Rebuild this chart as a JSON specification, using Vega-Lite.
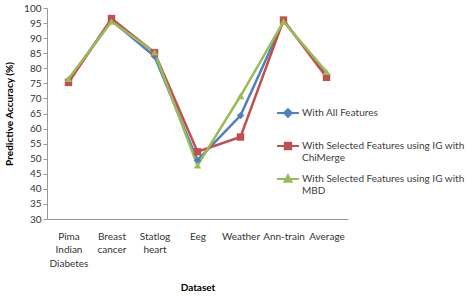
{
  "$schema": "https://vega.github.io/schema/vega-lite/v6.json",
  "width": 301,
  "height": 211,
  "autosize": {"type": "none"},
  "padding": {"left": 47, "top": 8, "right": 124, "bottom": 80},
  "background": "white",
  "config": {
    "view": {"stroke": null},
    "font": "Lato",
    "axis": {"labelFont": "Lato", "titleFont": "Lato", "labelColor": "#333", "titleColor": "#000", "domainColor": "#999", "tickColor": "#999", "grid": false}
  },
  "data": {
    "values": [
      {"dataset": "Pima Indian Diabetes", "series": "With All Features", "acc": 76},
      {"dataset": "Breast cancer", "series": "With All Features", "acc": 95.8},
      {"dataset": "Statlog heart", "series": "With All Features", "acc": 84},
      {"dataset": "Eeg", "series": "With All Features", "acc": 49.5},
      {"dataset": "Weather", "series": "With All Features", "acc": 64.3},
      {"dataset": "Ann-train", "series": "With All Features", "acc": 95.7},
      {"dataset": "Average", "series": "With All Features", "acc": 78},
      {"dataset": "Pima Indian Diabetes", "series": "With Selected Features using IG with ChiMerge", "acc": 75.3},
      {"dataset": "Breast cancer", "series": "With Selected Features using IG with ChiMerge", "acc": 96.5},
      {"dataset": "Statlog heart", "series": "With Selected Features using IG with ChiMerge", "acc": 85.2},
      {"dataset": "Eeg", "series": "With Selected Features using IG with ChiMerge", "acc": 52.3},
      {"dataset": "Weather", "series": "With Selected Features using IG with ChiMerge", "acc": 57.2},
      {"dataset": "Ann-train", "series": "With Selected Features using IG with ChiMerge", "acc": 96},
      {"dataset": "Average", "series": "With Selected Features using IG with ChiMerge", "acc": 77},
      {"dataset": "Pima Indian Diabetes", "series": "With Selected Features using IG with MBD", "acc": 76.5},
      {"dataset": "Breast cancer", "series": "With Selected Features using IG with MBD", "acc": 95.5},
      {"dataset": "Statlog heart", "series": "With Selected Features using IG with MBD", "acc": 85.3},
      {"dataset": "Eeg", "series": "With Selected Features using IG with MBD", "acc": 47.8},
      {"dataset": "Weather", "series": "With Selected Features using IG with MBD", "acc": 70.8},
      {"dataset": "Ann-train", "series": "With Selected Features using IG with MBD", "acc": 95.5},
      {"dataset": "Average", "series": "With Selected Features using IG with MBD", "acc": 78.8}
    ]
  },
  "mark": {"type": "line", "strokeWidth": 2.5, "point": {"filled": true, "size": 55, "opacity": 1}},
  "encoding": {
    "x": {
      "field": "dataset", "type": "nominal",
      "sort": ["Pima Indian Diabetes", "Breast cancer", "Statlog heart", "Eeg", "Weather", "Ann-train", "Average"],
      "scale": {"type": "point", "padding": 0.5},
      "axis": {
        "title": "Dataset", "titleFontSize": 10, "titleFontWeight": "bold", "titlePadding": 14,
        "labelAngle": 0, "labelFontSize": 10, "labelPadding": 12, "ticks": false, "labelLineHeight": 13.5,
        "labelExpr": "datum.label == 'Pima Indian Diabetes' ? ['Pima', 'Indian', 'Diabetes'] : datum.label == 'Breast cancer' ? ['Breast', 'cancer'] : datum.label == 'Statlog heart' ? ['Statlog', 'heart'] : datum.label"
      }
    },
    "y": {
      "field": "acc", "type": "quantitative",
      "scale": {"domain": [30, 100], "nice": false, "zero": false},
      "axis": {
        "title": "Predictive Accuracy  (%)", "titleFontSize": 10, "titleFontWeight": "bold", "titlePadding": 9,
        "values": [30, 35, 40, 45, 50, 55, 60, 65, 70, 75, 80, 85, 90, 95, 100],
        "labelFontSize": 10, "tickSize": 4
      }
    },
    "color": {
      "field": "series", "type": "nominal",
      "scale": {"range": ["#4f81bd", "#c0504d", "#9bbb59"]},
      "legend": {
        "title": null, "orient": "none", "legendX": 236, "legendY": 100,
        "labelFontSize": 10, "labelColor": "#404040", "rowPadding": 8, "symbolSize": 50, "labelLimit": 300, "labelOffset": 9, "labelLineHeight": 13.5,
        "labelExpr": "datum.label == 'With Selected Features using IG with ChiMerge' ? ['With Selected Features using IG with', 'ChiMerge'] : datum.label == 'With Selected Features using IG with MBD' ? ['With Selected Features using IG with', 'MBD'] : [datum.label, '']",
        "encode": {"symbols": {"update": {
          "shape": {"signal": "datum.value == 'With All Features' ? 'M-3.1,0H3.1M0,-1.1L1.1,0L0,1.1L-1.1,0Z' : datum.value == 'With Selected Features using IG with ChiMerge' ? 'M-3.1,0H3.1M-0.9,-0.9H0.9V0.9H-0.9Z' : 'M-3.1,0H3.1M0,-1.1L1,0.8H-1Z'"},
          "stroke": {"scale": "color", "field": "value"},
          "strokeWidth": {"value": 2}
        }}}
      }
    },
    "shape": {
      "field": "series", "type": "nominal",
      "scale": {"range": ["diamond", "square", "triangle-up"]},
      "legend": null
    }
  }
}
